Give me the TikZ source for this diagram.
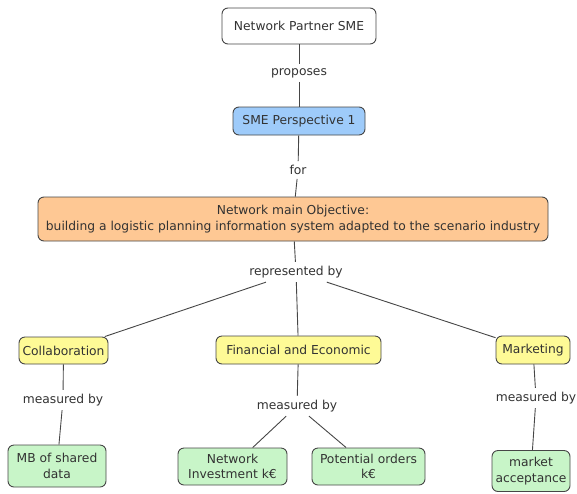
\documentclass[tikz,border=0pt]{standalone}
\usepackage{fontspec}
\setmainfont{DejaVu Sans}
\begin{document}
\begin{tikzpicture}[x=1pt,y=-1pt,
  every node/.style={font=\fontsize{12.3}{15.5}\selectfont, text=txt},
  box/.style={draw=bord, line width=0.9pt, rounded corners=6pt, align=center, inner sep=2pt},
  lbl/.style={inner sep=4pt, align=center},
  conn/.style={draw=bord, line width=0.9pt}]
\definecolor{txt}{RGB}{50,50,50}
\definecolor{bord}{RGB}{70,70,70}
\definecolor{fblue}{RGB}{158,203,250}
\definecolor{forange}{RGB}{254,200,148}
\definecolor{fyellow}{RGB}{254,250,150}
\definecolor{fgreen}{RGB}{200,245,200}
\useasboundingbox (0,0) rectangle (577,493);
% concepts
\node[box, fill=white, minimum width=154pt, minimum height=36pt] (nps) at (299,26) {Network Partner SME};
\node[box, fill=fblue, minimum width=132pt, minimum height=28pt] (smep) at (299,121) {SME Perspective 1};
\node[box, fill=forange, minimum width=510pt, minimum height=44pt] (obj) at (293,219) {Network main Objective:\\building a logistic planning information system adapted to the scenario industry};
\node[box, fill=fyellow, minimum width=89pt, minimum height=27pt] (col) at (63.5,350.5) {Collaboration};
\node[box, fill=fyellow, minimum width=165pt, minimum height=28pt] (fin) at (298.5,350) {Financial and Economic};
\node[box, fill=fyellow, minimum width=74pt, minimum height=28pt] (mkt) at (533,350) {Marketing};
\node[box, fill=fgreen, minimum width=98pt, minimum height=42pt] (mb) at (57,466) {MB of shared\\data};
\node[box, fill=fgreen, minimum width=109pt, minimum height=37pt] (ni) at (232.5,466.5) {Network\\Investment k€};
\node[box, fill=fgreen, minimum width=113pt, minimum height=37pt] (po) at (368.5,466.5) {Potential orders\\k€};
\node[box, fill=fgreen, minimum width=78pt, minimum height=41pt] (ma) at (531,471) {market\\acceptance};
% linking phrases
\node[lbl] (l1) at (299,73) {proposes};
\node[lbl] (l2) at (298,170) {for};
\node[lbl] (l3) at (296,272) {represented by};
\node[lbl] (l4) at (63,400) {measured by};
\node[lbl] (l5) at (297,406) {measured by};
\node[lbl] (l6) at (536,398) {measured by};
% connectors
\draw[conn] (nps) -- (l1);
\draw[conn] (l1) -- (smep);
\draw[conn] (smep) -- (l2);
\draw[conn] (l2) -- (obj);
\draw[conn] (obj) -- (l3);
\draw[conn] (l3) -- (col);
\draw[conn] (l3) -- (fin);
\draw[conn] (l3) -- (mkt);
\draw[conn] (col) -- (l4);
\draw[conn] (l4) -- (mb);
\draw[conn] (fin) -- (l5);
\draw[conn] (l5) -- (ni);
\draw[conn] (l5) -- (po);
\draw[conn] (mkt) -- (l6);
\draw[conn] (l6) -- (ma);
\end{tikzpicture}
\end{document}
